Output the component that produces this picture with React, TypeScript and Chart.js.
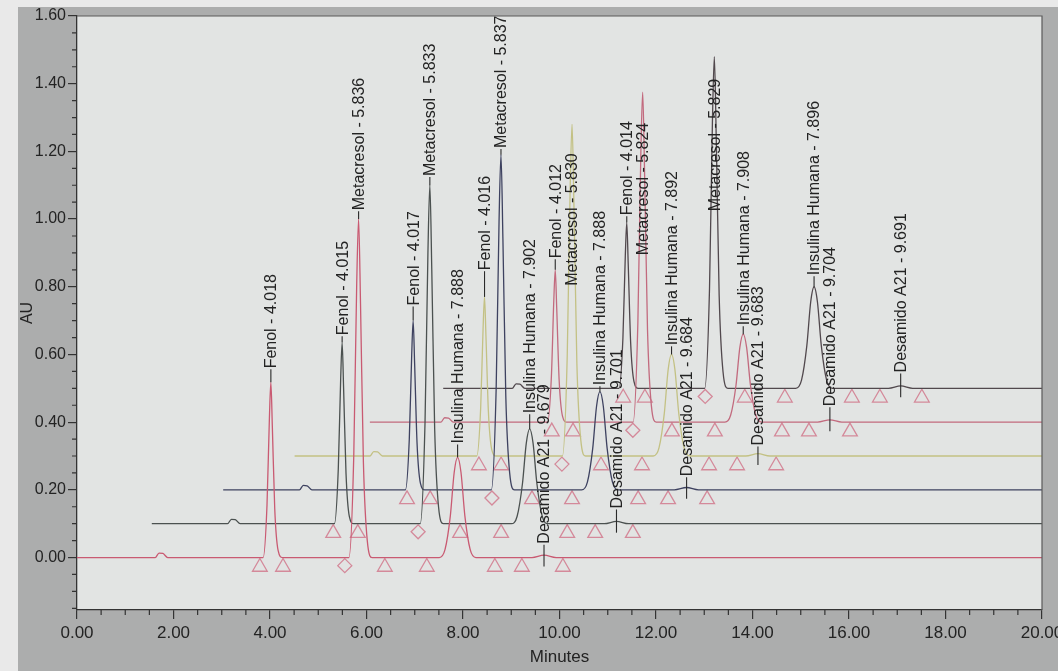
import { useEffect, useRef } from "react";
import { Chart, registerables } from "chart.js";

Chart.register(...registerables);

// ---------- data ----------
const PEAK_NAMES = ["Fenol", "Metacresol", "Insulina Humana", "Desamido A21"];

// retention times printed in the peak labels, one row per injection (trace)
const RETENTION_TIMES = [
  [4.018, 5.836, 7.888, 9.679],
  [4.015, 5.833, 7.902, 9.701],
  [4.017, 5.837, 7.888, 9.684],
  [4.016, 5.83, 7.892, 9.683],
  [4.012, 5.824, 7.908, 9.704],
  [4.014, 5.829, 7.896, 9.691],
];

const X_TICKS = [0, 2, 4, 6, 8, 10, 12, 14, 16, 18, 20];
const Y_TICKS = [0, 0.2, 0.4, 0.6, 0.8, 1.0, 1.2, 1.4, 1.6];

// offset of each trace in the stacked ("3D") view: minutes and AU
const TRACE_X_OFFSETS = [0, 1.48, 2.95, 4.43, 5.9, 7.38];
const TRACE_Y_OFFSETS = [0, 0.1, 0.2, 0.3, 0.4, 0.5];

// each trace: [run time (min), absorbance above its own baseline (AU)]
const TRACE_0 = [
  [0.0, 0], [1.62, 0], [1.7, 0.013], [1.78, 0.012], [1.88, 0],
  [3.858, 0], [3.938, 0.155], [3.988, 0.414], [4.018, 0.518], [4.048, 0.389], [4.098, 0.145], [4.168, 0.021], [4.258, 0],
  [5.636, 0], [5.736, 0.3], [5.796, 0.8], [5.836, 1.0], [5.876, 0.75], [5.936, 0.28], [6.016, 0.05], [6.116, 0],
  [7.508, 0], [7.628, 0.024], [7.738, 0.124], [7.818, 0.252], [7.888, 0.296], [7.958, 0.252], [8.038, 0.124], [8.148, 0.024], [8.268, 0],
  [9.43, 0], [9.679, 0.007], [9.93, 0],
  [20, 0],
];
const TRACE_1 = [
  [0.07, 0], [1.64, 0], [1.72, 0.013], [1.8, 0.012], [1.9, 0],
  [3.855, 0], [3.935, 0.161], [3.985, 0.429], [4.015, 0.536], [4.045, 0.402], [4.095, 0.15], [4.165, 0.021], [4.255, 0],
  [5.633, 0], [5.733, 0.3], [5.793, 0.8], [5.833, 1.0], [5.873, 0.75], [5.933, 0.28], [6.013, 0.05], [6.113, 0],
  [7.522, 0], [7.642, 0.022], [7.752, 0.118], [7.832, 0.238], [7.902, 0.28], [7.972, 0.238], [8.052, 0.118], [8.162, 0.022], [8.282, 0],
  [9.45, 0], [9.701, 0.007], [9.95, 0],
  [20, 0],
];
const TRACE_2 = [
  [0.08, 0], [1.66, 0], [1.74, 0.013], [1.82, 0.012], [1.92, 0],
  [3.857, 0], [3.937, 0.15], [3.987, 0.4], [4.017, 0.5], [4.047, 0.375], [4.097, 0.14], [4.167, 0.02], [4.257, 0],
  [5.637, 0], [5.737, 0.297], [5.797, 0.792], [5.837, 0.99], [5.877, 0.743], [5.937, 0.277], [6.017, 0.05], [6.117, 0],
  [7.508, 0], [7.628, 0.023], [7.738, 0.122], [7.818, 0.247], [7.888, 0.29], [7.958, 0.247], [8.038, 0.122], [8.148, 0.023], [8.268, 0],
  [9.43, 0], [9.684, 0.007], [9.93, 0],
  [20, 0],
];
const TRACE_3 = [
  [0.08, 0], [1.64, 0], [1.72, 0.013], [1.8, 0.012], [1.9, 0],
  [3.856, 0], [3.936, 0.141], [3.986, 0.376], [4.016, 0.47], [4.046, 0.353], [4.096, 0.132], [4.166, 0.019], [4.256, 0],
  [5.63, 0], [5.73, 0.294], [5.79, 0.784], [5.83, 0.98], [5.87, 0.735], [5.93, 0.274], [6.01, 0.049], [6.11, 0],
  [7.512, 0], [7.632, 0.024], [7.742, 0.126], [7.822, 0.255], [7.892, 0.3], [7.962, 0.255], [8.042, 0.126], [8.152, 0.024], [8.272, 0],
  [9.43, 0], [9.683, 0.007], [9.93, 0],
  [20, 0],
];
const TRACE_4 = [
  [0.17, 0], [1.64, 0], [1.72, 0.013], [1.8, 0.012], [1.9, 0],
  [3.852, 0], [3.932, 0.135], [3.982, 0.36], [4.012, 0.45], [4.042, 0.338], [4.092, 0.126], [4.162, 0.018], [4.252, 0],
  [5.624, 0], [5.724, 0.293], [5.784, 0.78], [5.824, 0.975], [5.864, 0.731], [5.924, 0.273], [6.004, 0.049], [6.104, 0],
  [7.528, 0], [7.648, 0.021], [7.758, 0.109], [7.838, 0.221], [7.908, 0.26], [7.978, 0.221], [8.058, 0.109], [8.168, 0.021], [8.288, 0],
  [9.45, 0], [9.704, 0.007], [9.95, 0],
  [20, 0],
];
const TRACE_5 = [
  [0.21, 0], [1.64, 0], [1.72, 0.013], [1.8, 0.012], [1.9, 0],
  [3.854, 0], [3.934, 0.147], [3.984, 0.392], [4.014, 0.49], [4.044, 0.368], [4.094, 0.137], [4.164, 0.02], [4.254, 0],
  [5.629, 0], [5.729, 0.294], [5.789, 0.784], [5.829, 0.98], [5.869, 0.735], [5.929, 0.274], [6.009, 0.049], [6.109, 0],
  [7.516, 0], [7.636, 0.024], [7.746, 0.126], [7.826, 0.255], [7.896, 0.3], [7.966, 0.255], [8.046, 0.126], [8.156, 0.024], [8.276, 0],
  [9.44, 0], [9.691, 0.007], [9.94, 0],
  [20, 0],
];
const TRACES = [TRACE_0, TRACE_1, TRACE_2, TRACE_3, TRACE_4, TRACE_5];

// integration marks (run time, min): triangles and diamonds below each baseline
const TRIANGLE_TIMES = [
  [3.79, 4.27, 6.38, 7.25, 8.66, 9.22, 10.07],
  [3.83, 4.34, 6.46, 7.31, 8.68, 9.26, 10.04],
  [3.89, 4.37, 6.48, 7.31, 8.68, 9.3, 10.11],
  [3.9, 4.36, 6.43, 7.28, 8.67, 9.25, 10.06],
  [3.94, 4.38, 6.43, 7.32, 8.71, 9.27, 10.12],
  [3.94, 4.39, 6.46, 7.29, 8.68, 9.26, 10.13],
];
const DIAMOND_TIMES = [[5.55], [5.59], [5.65], [5.62], [5.62], [5.64]];

// ---------- layout / style (not data) ----------
const LABEL_BOTTOMS = [
  [0.556, 1.023, 0.334, 0.038],
  [0.654, 1.124, 0.423, 0.142],
  [0.742, 1.207, 0.506, 0.237],
  [0.846, 0.8, 0.624, 0.328],
  [0.881, 0.89, 0.683, 0.444],
  [1.008, 1.02, 0.831, 0.544],
];
const TRACE_COLORS = ["#c95a72", "#4b5150", "#3e4260", "#c3c184", "#c26a7e", "#51484d"];
const MARK_COLOR = "#d4899a";
const FONT = '"Liberation Sans", Arial, Helvetica, sans-serif';
const INK = "#232323";

const decorPlugin = {
  id: "decor",
  beforeDraw(chart: any) {
    const { ctx, chartArea: a, width, height } = chart;
    ctx.save();
    ctx.fillStyle = "#acadad";
    ctx.fillRect(0, 0, width, height);
    ctx.fillStyle = "#e9e9e9";
    ctx.fillRect(0, 0, 18, height);
    ctx.fillRect(0, 0, width, 7);
    ctx.fillStyle = "#e2e4e3";
    ctx.fillRect(a.left, a.top, a.right - a.left, a.bottom - a.top);
    ctx.restore();
  },
  afterDatasetsDraw(chart: any) {
    const { ctx } = chart;
    const xs = chart.scales.x;
    const ys = chart.scales.y;
    ctx.save();
    ctx.font = `16px ${FONT}`;
    ctx.fillStyle = INK;
    ctx.strokeStyle = "#2a2a2a";
    ctx.lineWidth = 1.1;
    TRACES.forEach((pts, t) => {
      const base = TRACE_Y_OFFSETS[t];
      RETENTION_TIMES[t].forEach((rt, k) => {
        const px = xs.getPixelForValue(rt + TRACE_X_OFFSETS[t]);
        let top = 0;
        pts.forEach((p) => {
          if (Math.abs(p[0] - rt) < 0.05 && p[1] > top) top = p[1];
        });
        const pyBottom = ys.getPixelForValue(LABEL_BOTTOMS[t][k]);
        const pyAnchor =
          k === 3 ? ys.getPixelForValue(base) + 9 : ys.getPixelForValue(base + top);
        if (pyAnchor > pyBottom) {
          ctx.beginPath();
          ctx.moveTo(px, pyAnchor);
          ctx.lineTo(px, pyBottom);
          ctx.stroke();
        }
        ctx.save();
        ctx.translate(px + 1, pyBottom - 1);
        ctx.rotate(-Math.PI / 2);
        ctx.textAlign = "left";
        ctx.textBaseline = "middle";
        ctx.fillText(`${PEAK_NAMES[k]} - ${rt.toFixed(3)}`, 0, 0);
        ctx.restore();
      });
    });
    ctx.restore();
  },
  afterDraw(chart: any) {
    const { ctx, chartArea: a } = chart;
    const xs = chart.scales.x;
    const ys = chart.scales.y;
    ctx.save();
    ctx.strokeStyle = "#333";
    ctx.lineWidth = 1.2;
    ctx.beginPath();
    for (let i = 0; i <= 40; i++) {
      if (i % 4 === 0) continue;
      const px = xs.getPixelForValue(i * 0.5);
      ctx.moveTo(px, a.bottom);
      ctx.lineTo(px, a.bottom + 5);
    }
    for (let i = -3; i <= 32; i++) {
      if (i % 4 === 0) continue;
      const py = ys.getPixelForValue(i * 0.05);
      ctx.moveTo(a.left - 5, py);
      ctx.lineTo(a.left, py);
    }
    ctx.stroke();
    ctx.strokeStyle = "#5a5a5a";
    ctx.beginPath();
    ctx.moveTo(a.left, a.top);
    ctx.lineTo(a.right, a.top);
    ctx.lineTo(a.right, a.bottom);
    ctx.stroke();
    ctx.restore();
  },
};

export default function App() {
  const ref = useRef<HTMLCanvasElement | null>(null);

  useEffect(() => {
    if (!ref.current) return;
    const datasets: any[] = [];
    TRACES.forEach((pts, t) => {
      datasets.push({
        type: "line",
        data: pts.map(([x, y]) => ({ x: x + TRACE_X_OFFSETS[t], y: y + TRACE_Y_OFFSETS[t] })),
        borderColor: TRACE_COLORS[t],
        borderWidth: 1.3,
        pointRadius: 0,
        fill: false,
        cubicInterpolationMode: "monotone",
      });
    });
    TRACES.forEach((_, t) => {
      datasets.push({
        type: "line",
        showLine: false,
        data: TRIANGLE_TIMES[t].map((x) => ({ x: x + TRACE_X_OFFSETS[t], y: TRACE_Y_OFFSETS[t] - 0.028 })),
        pointStyle: "triangle",
        pointRadius: 8.5,
        pointBorderColor: MARK_COLOR,
        pointBackgroundColor: "rgba(0,0,0,0)",
        pointBorderWidth: 1.3,
      });
      datasets.push({
        type: "line",
        showLine: false,
        data: DIAMOND_TIMES[t].map((x) => ({ x: x + TRACE_X_OFFSETS[t], y: TRACE_Y_OFFSETS[t] - 0.024 })),
        pointStyle: "rectRot",
        pointRadius: 7,
        pointBorderColor: MARK_COLOR,
        pointBackgroundColor: "rgba(0,0,0,0)",
        pointBorderWidth: 1.3,
      });
    });

    const chart = new Chart(ref.current, {
      type: "line",
      data: { datasets },
      plugins: [decorPlugin],
      options: {
        animation: false,
        responsive: false,
        maintainAspectRatio: false,
        layout: { padding: { top: 16, right: 33, bottom: 0, left: 0 } },
        plugins: { legend: { display: false }, tooltip: { enabled: false } },
        scales: {
          x: {
            type: "linear",
            min: 0,
            max: 20,
            afterBuildTicks: (s: any) => {
              s.ticks = X_TICKS.map((v) => ({ value: v }));
            },
            afterFit: (s: any) => {
              s.height = 61;
            },
            ticks: {
              callback: (v: any) => Number(v).toFixed(2),
              font: { size: 17, family: FONT },
              color: INK,
              padding: 4,
              maxRotation: 0,
              autoSkip: false,
            },
            grid: { drawOnChartArea: false, drawTicks: true, tickLength: 9, color: "#333", lineWidth: 1.2 },
            border: { display: true, color: "#333", width: 1.3 },
            title: {
              display: true,
              text: "Minutes",
              font: { size: 17, family: FONT },
              color: INK,
              padding: { top: 0, bottom: 3 },
            },
          },
          y: {
            type: "linear",
            min: -0.155,
            max: 1.6,
            afterBuildTicks: (s: any) => {
              s.ticks = Y_TICKS.map((v) => ({ value: v }));
            },
            afterFit: (s: any) => {
              s.width = 77;
            },
            ticks: {
              callback: (v: any) => Number(v).toFixed(2),
              font: { size: 16, family: FONT },
              color: INK,
              padding: 2,
              autoSkip: false,
            },
            grid: { drawOnChartArea: false, drawTicks: true, tickLength: 9, color: "#333", lineWidth: 1.2 },
            border: { display: true, color: "#333", width: 1.3 },
            title: {
              display: true,
              text: "AU",
              font: { size: 16, family: FONT },
              color: INK,
              padding: { top: 18, bottom: 0 },
            },
          },
        },
      } as any,
    });
    return () => chart.destroy();
  }, []);

  return (
    <div
      style={{
        position: "fixed",
        left: 0,
        top: 0,
        width: 1058,
        height: 671,
        overflow: "hidden",
        background: "#acadad",
      }}
    >
      <canvas ref={ref} width={1075} height={671} style={{ display: "block", width: 1075, height: 671 }} />
    </div>
  );
}
